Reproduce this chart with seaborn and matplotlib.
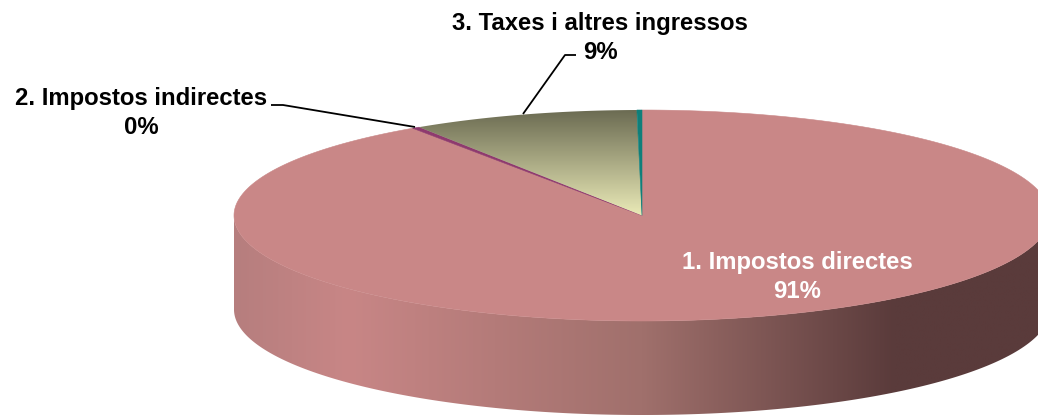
import numpy as np
import matplotlib
matplotlib.use('Agg')
import matplotlib.pyplot as plt
from matplotlib.patches import Polygon
from matplotlib.colors import to_rgb
import seaborn as sns

categories = ['1. Impostos directes', '2. Impostos indirectes', '3. Taxes i altres ingressos', 'Altres']
shares = [90.5, 0.3, 9.0, 0.2]
shown_pct = ['91%', '0%', '9%']
top_colors = ['#c98787', '#8e3a6e', None, '#0f7f7a']

sns.set_theme(style='white')
plt.rcParams['font.family'] = ['Liberation Sans', 'DejaVu Sans']

W, H = 1038, 417
CX, CY, RX, RY, DEPTH = 642, 215.5, 408, 105.5, 94


def rim(theta):
    # theta in radians, clockwise from the top of the ellipse
    return CX + RX * np.sin(theta), CY - RY * np.cos(theta)


def gradient(ax, colors, stops, poly, vertical=False, extent=None):
    pos = np.linspace(0, 1, 512)
    rgb = np.array([to_rgb(c) for c in colors])
    img = np.stack([np.interp(pos, stops, rgb[:, i]) for i in range(3)], axis=-1)
    img = img[:, None, :] if vertical else img[None, :, :]
    im = ax.imshow(img, extent=extent, aspect='auto', zorder=poly.get_zorder(), interpolation='bilinear')
    im.set_clip_path(poly)


fig = plt.figure(figsize=(W / 100, H / 100), dpi=100)
ax = fig.add_axes([0, 0, 1, 1])
ax.set_axis_off()

# side wall of the disc
t = np.linspace(np.pi / 2, 3 * np.pi / 2, 300)
x, y = rim(t)
wall_pts = np.vstack([np.column_stack([x, y + DEPTH]), np.column_stack([x[::-1], y[::-1]])])
wall = Polygon(wall_pts, closed=True, fc='none', ec='none', zorder=1)
ax.add_patch(wall)
gradient(ax, ['#b67e7e', '#c88686', '#a0706c', '#5a3b3b', '#5a3b3b'],
         [0, 0.14, 0.5, 0.81, 1], wall, extent=(CX - RX, CX + RX, CY + RY + DEPTH, CY - RY))

# top of the disc, slices run clockwise from 12 o'clock
edges = np.concatenate([[0], np.cumsum(shares)]) / np.sum(shares) * 2 * np.pi
for i, name in enumerate(categories):
    t = np.linspace(edges[i], edges[i + 1], 400)
    x, y = rim(t)
    pts = np.vstack([[CX, CY], np.column_stack([x, y])])
    if top_colors[i] is None:
        poly = Polygon(pts, closed=True, fc='none', ec='none', zorder=2)
        ax.add_patch(poly)
        gradient(ax, ['#6b6b52', '#ebebb8'], [0, 1], poly, vertical=True,
                 extent=(CX - RX, CX + RX, CY, CY - RY))
    else:
        ax.add_patch(Polygon(pts, closed=True, fc=top_colors[i], ec=top_colors[i], lw=0.4, zorder=2))

ax.set_xlim(0, W)
ax.set_ylim(H, 0)

# leader lines
ax.plot([415, 283, 271], [127, 105, 105], color='black', lw=1.3, zorder=3, solid_capstyle='butt')
ax.plot([523, 565, 576], [114, 55, 55], color='black', lw=1.3, zorder=3, solid_capstyle='butt')

label = dict(ha='center', va='center', fontsize=17.2, fontweight='bold', linespacing=1.28, zorder=4)
ax.text(797.5, 277, categories[0] + '\n' + shown_pct[0], color='white', **label)
ax.text(141, 113, categories[1] + '\n' + shown_pct[1], color='black', **label)
ax.text(600, 38, categories[2] + '\n' + shown_pct[2], color='black', **label)

fig.savefig('out.png', dpi=100)
